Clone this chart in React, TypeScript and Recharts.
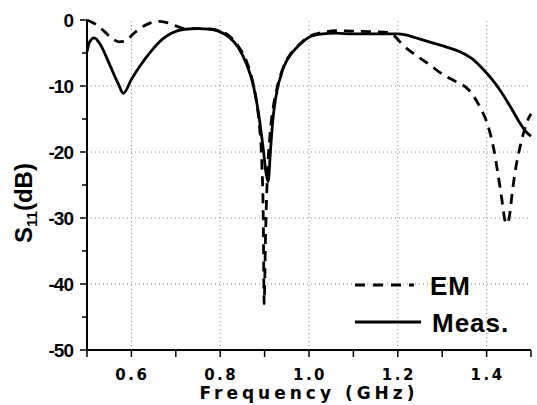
import React from "react";
import { LineChart, Line, XAxis, YAxis, ReferenceLine, Label } from "recharts";

const measFreq = [
  0.5, 0.506, 0.516, 0.53, 0.55, 0.57, 0.582, 0.6, 0.62, 0.646, 0.67, 0.69, 0.72, 0.75, 0.78, 0.8,
  0.82, 0.84, 0.86, 0.875, 0.886, 0.896, 0.904, 0.908, 0.913, 0.918, 0.925, 0.942, 0.96, 0.975, 1.0,
  1.03, 1.06, 1.1, 1.15, 1.2, 1.22, 1.25, 1.28, 1.31, 1.34, 1.37, 1.39, 1.41, 1.43, 1.455, 1.475,
  1.49, 1.5,
];
const measS11 = [
  -4.8, -3.3, -2.7, -3.7, -6.6, -9.6, -11.1, -9.0, -6.9, -4.6, -2.9, -2.0, -1.4, -1.3, -1.4, -1.8,
  -2.6, -4.1, -6.8, -10.0, -14.0, -19.0, -23.5, -24.5, -20.0, -15.5, -11.8, -7.3, -5.1, -4.0, -2.6,
  -2.1, -2.0, -2.1, -2.1, -2.1, -2.3, -2.9, -3.5, -4.1, -4.8, -6.0, -7.3, -8.8, -10.6, -13.3, -15.6,
  -17.0, -17.6,
];

const emFreq = [
  0.5, 0.51, 0.525, 0.54, 0.555, 0.572, 0.587, 0.601, 0.615, 0.628, 0.645, 0.66, 0.68, 0.7, 0.72,
  0.75, 0.78, 0.8, 0.82, 0.84, 0.86, 0.872, 0.882, 0.889, 0.894, 0.897, 0.899, 0.902, 0.906, 0.912,
  0.92, 0.928, 0.942, 0.96, 0.975, 1.0, 1.03, 1.06, 1.1, 1.15, 1.18, 1.195, 1.21, 1.24, 1.27, 1.3,
  1.33, 1.36, 1.385, 1.403, 1.416, 1.426, 1.434, 1.442, 1.447, 1.452, 1.458, 1.466, 1.478, 1.49, 1.5,
];
const emS11 = [
  0, -0.3, -0.9, -1.8, -2.7, -3.3, -3.2, -2.3, -1.5, -0.9, -0.4, -0.2, -0.4, -0.9, -1.3,
  -1.3, -1.4, -1.7, -2.4, -3.9, -6.4, -9.0, -12.5, -16.5, -22.0, -30.0, -43.0, -33.0, -24.0, -17.5,
  -13.0, -10.3, -7.2, -5.0, -3.9, -2.5, -1.9, -1.6, -1.7, -1.8, -1.9, -2.6, -3.7, -5.3, -6.7, -8.2,
  -9.3, -10.6, -13.2, -16.0, -19.5, -23.5, -27.0, -30.5, -30.9, -29.5, -26.0, -22.3, -18.5, -15.6, -14.2,
];

const xMajor = [0.6, 0.8, 1.0, 1.2, 1.4];
const xMinor = [0.5, 0.7, 0.9, 1.1, 1.3, 1.5];
const yMajor = [0, -10, -20, -30, -40, -50];
const yMinor = [-5, -15, -25, -35, -45];
const xGrid = [0.6, 0.8, 1.0, 1.2, 1.4];
const yGrid = [-10, -20, -30, -40];

const measData = measFreq.map((f, i) => ({ f, s11: measS11[i] }));
const emData = emFreq.map((f, i) => ({ f, s11: emS11[i] }));
const xTicks = [...xMajor, ...xMinor].sort((a, b) => a - b);
const yTicks = [...yMajor, ...yMinor].sort((a, b) => a - b);

const sans = "'Liberation Sans', Arial, sans-serif";
const wide = "'DejaVu Sans', sans-serif";

function BottomTick(props: any) {
  const { x, y, payload } = props;
  const major = xMajor.includes(payload.value);
  return (
    <g>
      <line x1={x} x2={x} y1={y} y2={y + 7} stroke="#000" strokeWidth={1.5} />
      {major && (
        <text x={x + 1} y={y + 30} textAnchor="middle" fontFamily={wide} fontWeight="bold" fontSize={15} letterSpacing={2.5}>
          {payload.value.toFixed(1)}
        </text>
      )}
    </g>
  );
}

function TopTick(props: any) {
  const { x, y } = props;
  return <line x1={x} x2={x} y1={y} y2={y - 6} stroke="#000" strokeWidth={1.5} />;
}

function LeftTick(props: any) {
  const { x, y, payload } = props;
  const major = yMajor.includes(payload.value);
  return (
    <g>
      <line x1={x - (major ? 7 : 5)} x2={x} y1={y} y2={y} stroke="#000" strokeWidth={1.5} />
      {major && (
        <text x={x - 14} y={y + 7} textAnchor="end" fontFamily={sans} fontWeight="bold" fontSize={19} letterSpacing={-1}>
          {payload.value}
        </text>
      )}
    </g>
  );
}

export default function App() {
  return (
    <div style={{ position: "absolute", left: 0, top: 0, width: 537, height: 405, background: "#fff" }}>
      <LineChart width={537} height={405} data={measData} margin={{ top: 20, right: 6, bottom: 25, left: 27 }}>
        {xGrid.map((v) => (
          <ReferenceLine key={"gx" + v} x={v} stroke="#888" strokeDasharray="1 3" />
        ))}
        {yGrid.map((v) => (
          <ReferenceLine key={"gy" + v} y={v} stroke="#888" strokeDasharray="1 3" />
        ))}
        <XAxis
          dataKey="f"
          type="number"
          domain={[0.5, 1.5]}
          ticks={xTicks}
          interval={0}
          height={30}
          tickSize={0}
          tickMargin={0}
          tickLine={false}
          tick={<BottomTick />}
          axisLine={{ stroke: "#000", strokeWidth: 2 }}
        />
        <XAxis
          xAxisId="top"
          orientation="top"
          type="number"
          domain={[0.5, 1.5]}
          ticks={xTicks}
          interval={0}
          height={0}
          tickSize={0}
          tickMargin={0}
          tickLine={false}
          tick={<TopTick />}
          axisLine={{ stroke: "#000", strokeWidth: 2 }}
        />
        <YAxis
          type="number"
          domain={[-50, 0]}
          ticks={yTicks}
          interval={0}
          width={60}
          tickSize={0}
          tickMargin={0}
          tickLine={false}
          tick={<LeftTick />}
          axisLine={{ stroke: "#000", strokeWidth: 2 }}
        >
          <Label
            content={(p: any) => {
              const vb = p.viewBox;
              const cx = vb.x + 5;
              const cy = vb.y + vb.height / 2 + 18;
              return (
                <text x={cx} y={cy} transform={`rotate(-90, ${cx}, ${cy})`} textAnchor="middle" fontFamily={sans} fontWeight="bold" fontSize={24}>
                  S<tspan fontSize={15} dy={5}>11</tspan>
                  <tspan dy={-5}>(dB)</tspan>
                </text>
              );
            }}
          />
        </YAxis>
        <YAxis
          yAxisId="right"
          orientation="right"
          type="number"
          domain={[-50, 0]}
          width={0}
          tick={false}
          tickLine={false}
          axisLine={{ stroke: "#000", strokeWidth: 2 }}
        />
        <Line
          data={emData}
          dataKey="s11"
          type="monotone"
          stroke="#000"
          strokeWidth={2.8}
          strokeDasharray="10 7"
          dot={false}
          isAnimationActive={false}
        />
        <Line
          data={measData}
          dataKey="s11"
          type="monotone"
          stroke="#000"
          strokeWidth={2.8}
          dot={false}
          isAnimationActive={false}
        />
      </LineChart>
      <svg width={537} height={405} style={{ position: "absolute", left: 0, top: 0, pointerEvents: "none" }}>
        <text x={309} y={399} textAnchor="middle" fontFamily={wide} fontWeight="bold" fontSize={17} letterSpacing={4}>
          Frequency (GHz)
        </text>
        <line x1={355} x2={414} y1={285} y2={285} stroke="#000" strokeWidth={3} strokeDasharray="10 8" />
        <text x={430} y={295} fontFamily={sans} fontWeight="bold" fontSize={26} letterSpacing={1}>EM</text>
        <line x1={355} x2={421} y1={322} y2={322} stroke="#000" strokeWidth={3} />
        <text x={432} y={332} fontFamily={sans} fontWeight="bold" fontSize={26} letterSpacing={1}>Meas.</text>
      </svg>
    </div>
  );
}
